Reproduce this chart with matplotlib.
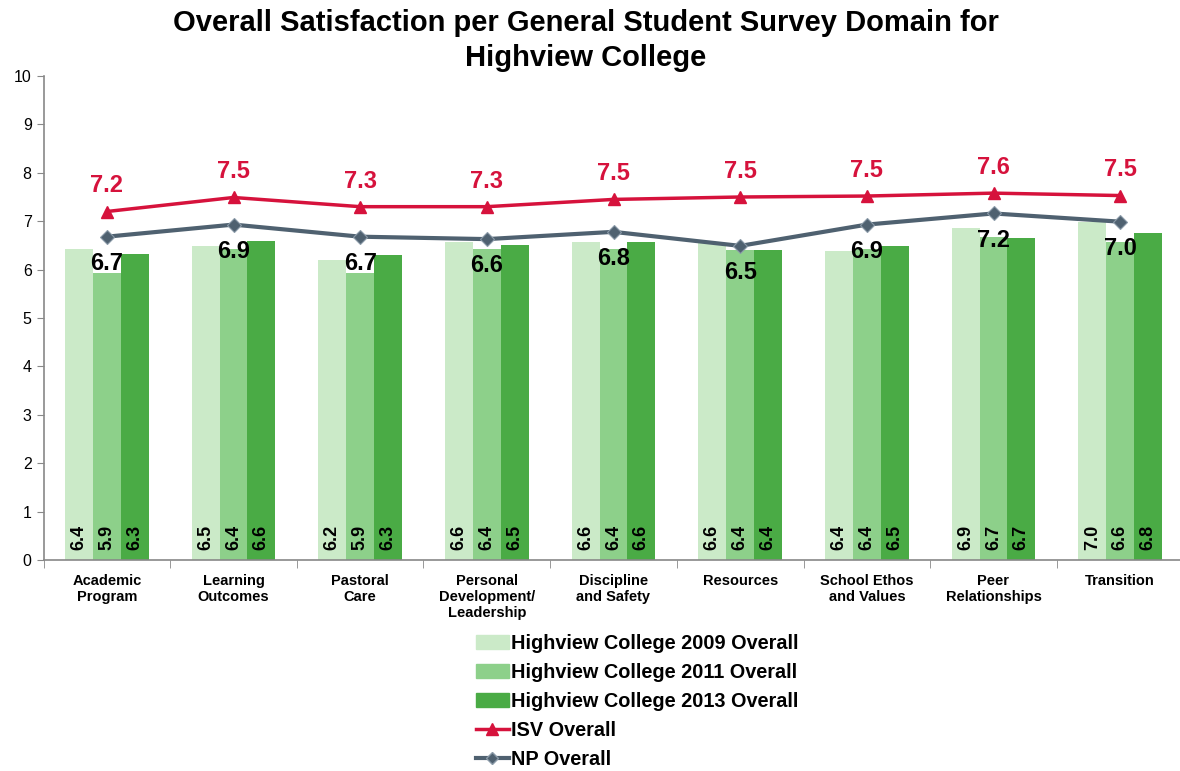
import matplotlib.pyplot as plt
from matplotlib.patches import Patch
from matplotlib.lines import Line2D
import numpy as np

plt.rcParams['font.family'] = ['Liberation Sans', 'DejaVu Sans']

# ============================================================================
# Data
# ============================================================================
categories = ['Academic\nProgram', 'Learning\nOutcomes', 'Pastoral\nCare',
              'Personal\nDevelopment/\nLeadership', 'Discipline\nand Safety',
              'Resources', 'School Ethos\nand Values', 'Peer\nRelationships',
              'Transition']
hc_2009 = [6.42, 6.48, 6.19, 6.58, 6.56, 6.55, 6.39, 6.86, 6.98]
hc_2011 = [5.93, 6.42, 5.92, 6.42, 6.42, 6.41, 6.42, 6.68, 6.58]
hc_2013 = [6.33, 6.60, 6.31, 6.50, 6.57, 6.41, 6.49, 6.66, 6.76]
isv = [7.20, 7.49, 7.30, 7.30, 7.45, 7.50, 7.52, 7.58, 7.53]
np_overall = [6.68, 6.93, 6.68, 6.63, 6.78, 6.49, 6.93, 7.16, 6.99]

bar_labels_2009 = ['6.4', '6.5', '6.2', '6.6', '6.6', '6.6', '6.4', '6.9', '7.0']
bar_labels_2011 = ['5.9', '6.4', '5.9', '6.4', '6.4', '6.4', '6.4', '6.7', '6.6']
bar_labels_2013 = ['6.3', '6.6', '6.3', '6.5', '6.6', '6.4', '6.5', '6.7', '6.8']
isv_labels = ['7.2', '7.5', '7.3', '7.3', '7.5', '7.5', '7.5', '7.6', '7.5']
np_labels = ['6.7', '6.9', '6.7', '6.6', '6.8', '6.5', '6.9', '7.2', '7.0']

c2009 = '#cbeac8'
c2011 = '#8dd08a'
c2013 = '#4aab45'
c_isv = '#d6123c'
c_np = '#4f6170'

# ============================================================================
# Plotting
# ============================================================================
fig = plt.figure(figsize=(11.8, 7.71), dpi=100)
ax = fig.add_axes([43.5 / 1180, 1 - 560 / 771, 1140 / 1180, (560 - 76) / 771])

x = np.arange(len(categories))
w = 0.22
ax.bar(x - w, hc_2009, w, color=c2009, zorder=2)
ax.bar(x, hc_2011, w, color=c2011, zorder=2)
ax.bar(x + w, hc_2013, w, color=c2013, zorder=2)

for i in range(len(categories)):
    for off, lab in [(-w, bar_labels_2009[i]), (0, bar_labels_2011[i]),
                     (w, bar_labels_2013[i])]:
        ax.text(x[i] + off, 0.47, lab, rotation=90, ha='center', va='center',
                fontsize=13, fontweight='bold', color='black', zorder=5)

ax.plot(x, isv, color=c_isv, lw=2.5, marker='^', markersize=9, zorder=4)
ax.plot(x, np_overall, color=c_np, lw=3, marker='D', markersize=7,
        markeredgecolor='#8a9aa8', markeredgewidth=0.8, zorder=4)

for i in range(len(categories)):
    ax.text(x[i], isv[i] + 0.53, isv_labels[i], ha='center', va='center',
            fontsize=17, fontweight='bold', color=c_isv, zorder=5)
    ax.text(x[i], np_overall[i] - 0.55, np_labels[i], ha='center', va='center',
            fontsize=17, fontweight='bold', color='black', zorder=5)

ax.set_ylim(0, 10)
ax.set_xlim(-0.5, 8.5)
ax.set_yticks(range(0, 11))
ax.tick_params(axis='y', labelsize=11.5, direction='out', length=5,
               color='#888888')
ax.set_xticks(x)
ax.set_xticklabels(categories, fontsize=10.5, fontweight='bold')
ax.tick_params(axis='x', length=0, pad=10)
ax.set_xticks(np.arange(-0.5, 9.0, 1), minor=True)
ax.tick_params(axis='x', which='minor', length=6, direction='out',
               color='#888888')
for s in ['top', 'right']:
    ax.spines[s].set_visible(False)
for s in ['left', 'bottom']:
    ax.spines[s].set_color('#888888')
    ax.spines[s].set_linewidth(1.2)

fig.suptitle('Overall Satisfaction per General Student Survey Domain for\n'
             'Highview College', fontsize=21, fontweight='bold', y=0.988,
             x=586 / 1180, linespacing=1.3)

handles = [Patch(color=c2009), Patch(color=c2011), Patch(color=c2013),
           Line2D([], [], color=c_isv, lw=2.5, marker='^', markersize=8),
           Line2D([], [], color=c_np, lw=3, marker='D', markersize=6,
                  markeredgecolor='#8a9aa8')]
labels = ['Highview College 2009 Overall', 'Highview College 2011 Overall',
          'Highview College 2013 Overall', 'ISV Overall', 'NP Overall']
fig.legend(handles, labels, loc='upper left',
           bbox_to_anchor=(466 / 1180, 1 - 624 / 771), frameon=False,
           prop={'size': 14.3, 'weight': 'bold'}, handlelength=1.65,
           handletextpad=0.1, labelspacing=0.5, borderpad=0)

fig.savefig('out.png', dpi=100)
